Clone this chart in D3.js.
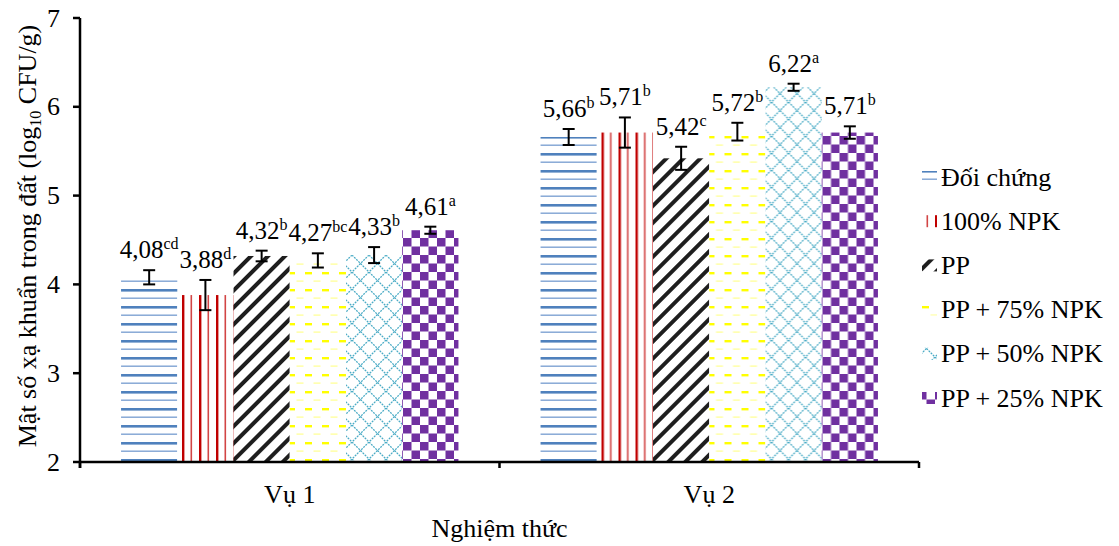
<!DOCTYPE html>
<html><head><meta charset="utf-8">
<script src="https://cdn.jsdelivr.net/npm/d3@7"></script>
<style>
body{margin:0;background:#fff;}
text{font-family:"Liberation Serif","Times New Roman",serif;fill:#000;}
</style></head>
<body><svg id="chart" width="1119" height="546"></svg>
<script>
const categories = ["Vụ 1", "Vụ 2"];
const seriesNames = ["Đối chứng", "100% NPK", "PP", "PP + 75% NPK", "PP + 50% NPK", "PP + 25% NPK"];
const valuesVu1 = [4.08, 3.88, 4.32, 4.27, 4.33, 4.61];
const valuesVu2 = [5.66, 5.71, 5.42, 5.72, 6.22, 5.71];
const errVu1 = [0.08, 0.17, 0.06, 0.08, 0.09, 0.04];
const errVu2 = [0.09, 0.17, 0.13, 0.10, 0.04, 0.07];
const lettersVu1 = ["cd", "d", "b", "bc", "b", "a"];
const lettersVu2 = ["b", "b", "c", "b", "a", "b"];
const yTicks = [2, 3, 4, 5, 6, 7];

const values = [valuesVu1, valuesVu2];
const errs = [errVu1, errVu2];
const letters = [lettersVu1, lettersVu2];

const svg = d3.select("#chart");
const defs = svg.append("defs");
const P = 17, H = P / 2;

// pattern 0: horizontal blue lines
let p = defs.append("pattern").attr("id", "pat0").attr("patternUnits", "userSpaceOnUse").attr("width", P).attr("height", P);
p.append("rect").attr("width", P).attr("height", P).attr("fill", "#fff");
p.append("rect").attr("x", 0).attr("y", 0).attr("width", P).attr("height", 2.6).attr("fill", "#4f81bd");
p.append("rect").attr("x", 0).attr("y", H).attr("width", P).attr("height", 1.4).attr("fill", "#7fa3d3");
// pattern 1: vertical red lines
p = defs.append("pattern").attr("id", "pat1").attr("patternUnits", "userSpaceOnUse").attr("width", P).attr("height", P);
p.append("rect").attr("width", P).attr("height", P).attr("fill", "#fff");
p.append("rect").attr("x", 0).attr("y", 0).attr("width", 2.4).attr("height", P).attr("fill", "#c00000");
p.append("rect").attr("x", H).attr("y", 0).attr("width", 1.6).attr("height", P).attr("fill", "#d24545");
// pattern 2: black diagonal stripes
p = defs.append("pattern").attr("id", "pat2").attr("patternUnits", "userSpaceOnUse").attr("width", 12).attr("height", 12).attr("patternTransform", "rotate(45)");
p.append("rect").attr("width", 12).attr("height", 12).attr("fill", "#fff");
p.append("rect").attr("x", 0).attr("y", 0).attr("width", 4).attr("height", 12).attr("fill", "#1e1e1e");
// pattern 3: yellow dashes
p = defs.append("pattern").attr("id", "pat3").attr("patternUnits", "userSpaceOnUse").attr("width", P).attr("height", P);
p.append("rect").attr("width", P).attr("height", P).attr("fill", "#fff");
p.append("rect").attr("x", 4).attr("y", 0).attr("width", 7).attr("height", 2.4).attr("fill", "#ffff00");
p.append("rect").attr("x", 12.5).attr("y", H).attr("width", 7).attr("height", 1.2).attr("fill", "#ffff90");
p.append("rect").attr("x", -4.5).attr("y", H).attr("width", 7).attr("height", 1.2).attr("fill", "#ffff90");
// pattern 4: cyan crosshatch
p = defs.append("pattern").attr("id", "pat4").attr("patternUnits", "userSpaceOnUse").attr("width", P).attr("height", P);
p.append("rect").attr("width", P).attr("height", P).attr("fill", "#fff");
p.append("path").attr("d", `M0,0L${P},${P}M${P},0L0,${P}`).attr("stroke", "#4bacc6").attr("stroke-width", 1.3).attr("stroke-dasharray", "2,1").attr("fill", "none");
// pattern 5: purple checkerboard
p = defs.append("pattern").attr("id", "pat5").attr("patternUnits", "userSpaceOnUse").attr("width", P).attr("height", P);
p.append("rect").attr("width", P).attr("height", P).attr("fill", "#fff");
p.append("rect").attr("x", 0).attr("y", 0).attr("width", H).attr("height", H).attr("fill", "#7030a0");
p.append("rect").attr("x", H).attr("y", H).attr("width", H).attr("height", H).attr("fill", "#7030a0");

const mLeft = 80, mRight = 919, mTop = 18, mBottom = 462;
const x0 = d3.scaleBand().domain(categories).range([mLeft, mRight]).padding(0);
const x1 = d3.scaleBand().domain(seriesNames).range([0, x0.bandwidth()]).paddingInner(0).paddingOuter(0.73);
const y = d3.scaleLinear().domain([2, 7]).range([mBottom, mTop]);

// bars
const fmt = v => d3.format(".2f")(v).replace(".", ",");
categories.forEach((c, ci) => {
  const g = svg.append("g").attr("transform", `translate(${x0(c)},0)`);
  seriesNames.forEach((s, si) => {
    const v = values[ci][si], e = errs[ci][si];
    const bx = x1(s), bw = x1.bandwidth();
    g.append("rect").attr("x", bx).attr("y", y(v)).attr("width", bw).attr("height", y(2) - y(v))
      .attr("fill", `url(#pat${si})`);
    const cx = bx + bw / 2;
    g.append("line").attr("x1", cx).attr("x2", cx).attr("y1", y(v + e)).attr("y2", y(v - e)).attr("stroke", "#000").attr("stroke-width", 2);
    [v + e, v - e].forEach(t => g.append("line").attr("x1", cx - 6).attr("x2", cx + 6).attr("y1", y(t)).attr("y2", y(t)).attr("stroke", "#000").attr("stroke-width", 2));
    const t = g.append("text").attr("x", cx).attr("y", y(v + e) - 12).attr("text-anchor", "middle").attr("font-size", 25);
    t.append("tspan").text(fmt(v));
    t.append("tspan").attr("font-size", 16).attr("dy", -9).text(letters[ci][si]);
  });
});

// y axis
const ya = svg.append("g");
ya.append("line").attr("x1", mLeft).attr("x2", mLeft).attr("y1", mTop).attr("y2", mBottom + 6).attr("stroke", "#000").attr("stroke-width", 2.5);
yTicks.forEach(t => {
  ya.append("line").attr("x1", mLeft - 7).attr("x2", mLeft).attr("y1", y(t)).attr("y2", y(t)).attr("stroke", "#000").attr("stroke-width", 2.5);
  ya.append("text").attr("x", 60).attr("y", y(t)).attr("dy", "0.33em").attr("text-anchor", "end").attr("font-size", 26).text(t);
});
// x axis
const xa = svg.append("g");
xa.append("line").attr("x1", mLeft).attr("x2", mRight).attr("y1", mBottom).attr("y2", mBottom).attr("stroke", "#000").attr("stroke-width", 2.5);
[mLeft, ...categories.map(c => x0(c) + x0.bandwidth())].forEach(xx => {
  xa.append("line").attr("x1", xx).attr("x2", xx).attr("y1", mBottom).attr("y2", mBottom + 6).attr("stroke", "#000").attr("stroke-width", 2.5);
});
categories.forEach(c => {
  xa.append("text").attr("x", x0(c) + x0.bandwidth() / 2).attr("y", 503).attr("text-anchor", "middle").attr("font-size", 26).text(c);
});
svg.append("text").attr("x", (mLeft + mRight) / 2).attr("y", 537).attr("text-anchor", "middle").attr("font-size", 26).text("Nghiệm thức");

// y title
const yt = svg.append("text").attr("transform", "translate(36,236) rotate(-90)").attr("text-anchor", "middle").attr("font-size", 26);
yt.append("tspan").text("Mật số xạ khuẩn trong đất (log");
yt.append("tspan").attr("font-size", 16).attr("dy", 5).text("10");
yt.append("tspan").attr("dy", -5).text(" CFU/g)");

// legend
const lg = svg.append("g");
seriesNames.forEach((s, i) => {
  const cy = 177 + i * 44.2;
  lg.append("rect").attr("x", 922).attr("y", cy - 6).attr("width", 15).attr("height", 12).attr("fill", `url(#pat${i})`);
  lg.append("text").attr("x", 941).attr("y", cy).attr("dy", "0.33em").attr("font-size", 26).text(s);
});
</script></body></html>
